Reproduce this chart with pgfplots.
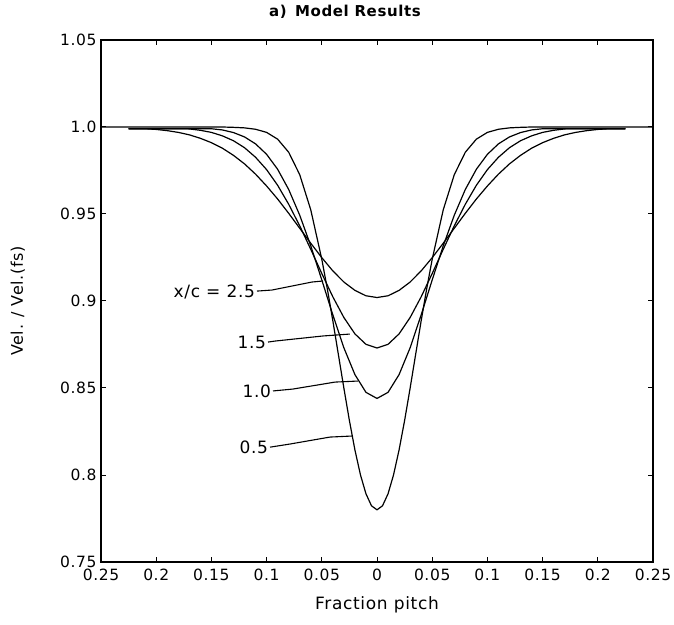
\documentclass[border=0pt]{standalone}
\usepackage{fontspec}
\setmainfont{DejaVu Sans}[LetterSpace=4]
\usepackage{pgfplots}
\pgfplotsset{compat=1.18}
\begin{document}
\begin{tikzpicture}
\useasboundingbox (-101bp,-63bp) rectangle (573bp,562bp);
\begin{axis}[
  scale only axis, width=552bp, height=522bp,
  at={(0,0)}, anchor=south west,
  xmin=-0.25, xmax=0.25, ymin=0.75, ymax=1.05,
  xtick={-0.25,-0.2,-0.15,-0.1,-0.05,0,0.05,0.1,0.15,0.2,0.25},
  xticklabels={0.25,0.2,0.15,0.1,0.05,0,0.05,0.1,0.15,0.2,0.25},
  ytick={0.75,0.8,0.85,0.9,0.95,1.0,1.05},
  yticklabels={0.75,0.8,0.85,0.9,0.95,1.0,1.05},
  tick align=inside, major tick length=5bp,
  tick style={black, line width=1bp},
  axis line style={line width=1.2bp},
  every tick label/.append style={font=\fontsize{15.5bp}{18bp}\selectfont},
  xticklabel style={yshift=-3bp},
  yticklabel style={xshift=-1bp},
  xlabel={Fraction pitch},
  ylabel={Vel. / Vel.(fs)},
  xlabel style={at={(axis description cs:0.5,-0.0824)}, anchor=center, font=\fontsize{17bp}{20bp}\selectfont},
  ylabel style={at={(axis description cs:-0.1504,0.5)}, anchor=center, font=\fontsize{16bp}{19bp}\selectfont},
  every axis title shift=0pt,
  title={a)\, Model Results},
  title style={at={(axis description cs:0.442,1.0536)}, anchor=center, font=\bfseries\fontsize{15bp}{18bp}\selectfont},
  clip=true,
]
% x/c = 0.5
\addplot[black, line width=1.2bp, no marks] coordinates {(-0.25,1.0)(-0.20,1.0)(-0.14,1.0)(-0.13,0.9998)(-0.12,0.9995)(-0.11,0.9987)(-0.10,0.9969)(-0.09,0.9930)(-0.08,0.9855)(-0.07,0.9726)(-0.06,0.9524)(-0.05,0.9240)(-0.045,0.9070)(-0.04,0.8886)(-0.035,0.8693)(-0.03,0.8499)(-0.025,0.8313)(-0.02,0.8144)(-0.015,0.8001)(-0.01,0.7892)(-0.005,0.7823)(0,0.7800)(0.005,0.7823)(0.01,0.7892)(0.015,0.8001)(0.02,0.8144)(0.025,0.8313)(0.03,0.8499)(0.035,0.8693)(0.04,0.8886)(0.045,0.9070)(0.05,0.9240)(0.06,0.9524)(0.07,0.9726)(0.08,0.9855)(0.09,0.9930)(0.10,0.9969)(0.11,0.9987)(0.12,0.9995)(0.13,0.9998)(0.14,1.0)(0.20,1.0)(0.25,1.0)};
% x/c = 1.0
\addplot[black, line width=1.2bp, no marks] coordinates {(-0.225,0.999)(-0.15,0.999)(-0.14,0.9983)(-0.13,0.9968)(-0.12,0.9943)(-0.11,0.9903)(-0.10,0.9843)(-0.09,0.9757)(-0.08,0.9641)(-0.07,0.9493)(-0.06,0.9317)(-0.05,0.9121)(-0.04,0.8920)(-0.03,0.8731)(-0.02,0.8577)(-0.01,0.8475)(0,0.8440)(0.01,0.8475)(0.02,0.8577)(0.03,0.8731)(0.04,0.8920)(0.05,0.9121)(0.06,0.9317)(0.07,0.9493)(0.08,0.9641)(0.09,0.9757)(0.10,0.9843)(0.11,0.9903)(0.12,0.9943)(0.13,0.9968)(0.14,0.9983)(0.15,0.999)(0.225,0.999)};
% x/c = 1.5
\addplot[black, line width=1.2bp, no marks] coordinates {(-0.225,0.999)(-0.18,0.999)(-0.17,0.9989)(-0.16,0.9981)(-0.15,0.9969)(-0.14,0.9949)(-0.13,0.9921)(-0.12,0.9881)(-0.11,0.9826)(-0.10,0.9755)(-0.09,0.9665)(-0.08,0.9556)(-0.07,0.9432)(-0.06,0.9297)(-0.05,0.9158)(-0.04,0.9024)(-0.03,0.8905)(-0.02,0.8811)(-0.01,0.8751)(0,0.8730)(0.01,0.8751)(0.02,0.8811)(0.03,0.8905)(0.04,0.9024)(0.05,0.9158)(0.06,0.9297)(0.07,0.9432)(0.08,0.9556)(0.09,0.9665)(0.10,0.9755)(0.11,0.9826)(0.12,0.9881)(0.13,0.9921)(0.14,0.9949)(0.15,0.9969)(0.16,0.9981)(0.17,0.9989)(0.18,0.999)(0.225,0.999)};
% x/c = 2.5
\addplot[black, line width=1.2bp, no marks] coordinates {(-0.225,0.999)(-0.21,0.999)(-0.20,0.9986)(-0.19,0.9979)(-0.18,0.9969)(-0.17,0.9955)(-0.16,0.9935)(-0.15,0.9910)(-0.14,0.9878)(-0.13,0.9837)(-0.12,0.9788)(-0.11,0.9729)(-0.10,0.9661)(-0.09,0.9586)(-0.08,0.9504)(-0.07,0.9418)(-0.06,0.9332)(-0.05,0.9249)(-0.04,0.9173)(-0.03,0.9109)(-0.02,0.9061)(-0.01,0.9030)(0,0.9020)(0.01,0.9030)(0.02,0.9061)(0.03,0.9109)(0.04,0.9173)(0.05,0.9249)(0.06,0.9332)(0.07,0.9418)(0.08,0.9504)(0.09,0.9586)(0.10,0.9661)(0.11,0.9729)(0.12,0.9788)(0.13,0.9837)(0.14,0.9878)(0.15,0.9910)(0.16,0.9935)(0.17,0.9955)(0.18,0.9969)(0.19,0.9979)(0.20,0.9986)(0.21,0.999)(0.225,0.999)};
% leader lines
\addplot[black, line width=1.1bp, no marks] coordinates {(-0.1087,0.9057)(-0.0951,0.9063)(-0.0589,0.9109)(-0.0489,0.9115)};
\addplot[black, line width=1.1bp, no marks] coordinates {(-0.0987,0.8764)(-0.0920,0.8770)(-0.0489,0.8799)(-0.0245,0.8810)};
\addplot[black, line width=1.1bp, no marks] coordinates {(-0.0942,0.8483)(-0.0761,0.8494)(-0.0380,0.8534)(-0.0172,0.8540)};
\addplot[black, line width=1.1bp, no marks] coordinates {(-0.0969,0.8160)(-0.0788,0.8178)(-0.0426,0.8218)(-0.0226,0.8224)};
\node[anchor=east, inner sep=1bp, font=\fontsize{17bp}{20bp}\selectfont] at (axis cs:-0.1095,0.9052) {x/c = 2.5};
\node[anchor=east, inner sep=1bp, font=\fontsize{17bp}{20bp}\selectfont] at (axis cs:-0.0995,0.8764) {1.5};
\node[anchor=east, inner sep=1bp, font=\fontsize{17bp}{20bp}\selectfont] at (axis cs:-0.0950,0.8483) {1.0};
\node[anchor=east, inner sep=1bp, font=\fontsize{17bp}{20bp}\selectfont] at (axis cs:-0.0977,0.8160) {0.5};
\end{axis}
\end{tikzpicture}
\end{document}
